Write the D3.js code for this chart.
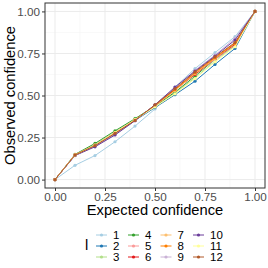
<!DOCTYPE html>
<html>
<head>
<meta charset="utf-8">
<script src="https://cdn.jsdelivr.net/npm/d3@7"></script>
<style>
  body { margin: 0; background: #fff; }
  text { font-family: "Liberation Sans", Arial, sans-serif; }
</style>
</head>
<body>
<div id="chart"></div>
<script>
var expected = [0, 0.1, 0.2, 0.3, 0.4, 0.5, 0.6, 0.7, 0.8, 0.9, 1];
var levels = ["1", "2", "3", "4", "5", "6", "7", "8", "9", "10", "11", "12"];
var colors = ["#A6CEE3", "#1F78B4", "#B2DF8A", "#33A02C", "#FB9A99", "#E31A1C",
              "#FDBF6F", "#FF7F00", "#CAB2D6", "#6A3D9A", "#FFFF99", "#B15928"];
var observed = [
  [0, 0.085, 0.143, 0.225, 0.318, 0.420, 0.550, 0.660, 0.755, 0.850, 1],  // 1
  [0, 0.145, 0.200, 0.272, 0.352, 0.428, 0.505, 0.585, 0.685, 0.780, 1],  // 2
  [0, 0.147, 0.208, 0.282, 0.358, 0.435, 0.515, 0.605, 0.705, 0.795, 1],  // 3
  [0, 0.150, 0.215, 0.290, 0.362, 0.438, 0.520, 0.615, 0.715, 0.800, 1],  // 4
  [0, 0.147, 0.205, 0.280, 0.356, 0.438, 0.530, 0.625, 0.715, 0.800, 1],  // 5
  [0, 0.146, 0.204, 0.278, 0.355, 0.440, 0.535, 0.625, 0.720, 0.805, 1],  // 6
  [0, 0.146, 0.203, 0.276, 0.354, 0.440, 0.530, 0.630, 0.720, 0.810, 1],  // 7
  [0, 0.146, 0.203, 0.275, 0.353, 0.442, 0.535, 0.635, 0.725, 0.810, 1],  // 8
  [0, 0.144, 0.198, 0.268, 0.350, 0.445, 0.545, 0.650, 0.740, 0.840, 1],  // 9
  [0, 0.143, 0.195, 0.265, 0.350, 0.445, 0.550, 0.645, 0.735, 0.830, 1],  // 10
  [0, 0.146, 0.205, 0.280, 0.356, 0.432, 0.510, 0.600, 0.700, 0.790, 1],  // 11
  [0, 0.146, 0.202, 0.275, 0.352, 0.444, 0.540, 0.640, 0.730, 0.815, 1]   // 12
];
var ticks = [0, 0.25, 0.5, 0.75, 1];
var minorTicks = [0.125, 0.375, 0.625, 0.875];

var W = 268, H = 268;
var pL = 45, pR = 265, pT = 3, pB = 188;   // panel edges

var svg = d3.select("#chart").append("svg")
  .attr("width", W).attr("height", H);

var xScale = d3.scaleLinear().domain([-0.05, 1.05]).range([pL, pR]);
var yScale = d3.scaleLinear().domain([-0.05, 1.05]).range([pB, pT]);

// panel background + grid
svg.append("rect")
  .attr("x", pL).attr("y", pT)
  .attr("width", pR - pL).attr("height", pB - pT)
  .style("fill", "white");

var grid = svg.append("g");
minorTicks.forEach(function(t) {
  grid.append("line").attr("x1", xScale(t)).attr("x2", xScale(t))
    .attr("y1", pT).attr("y2", pB)
    .style("stroke", "#F3F3F3").style("stroke-width", 0.6);
  grid.append("line").attr("y1", yScale(t)).attr("y2", yScale(t))
    .attr("x1", pL).attr("x2", pR)
    .style("stroke", "#F3F3F3").style("stroke-width", 0.6);
});
ticks.forEach(function(t) {
  grid.append("line").attr("x1", xScale(t)).attr("x2", xScale(t))
    .attr("y1", pT).attr("y2", pB)
    .style("stroke", "#EBEBEB").style("stroke-width", 1);
  grid.append("line").attr("y1", yScale(t)).attr("y2", yScale(t))
    .attr("x1", pL).attr("x2", pR)
    .style("stroke", "#EBEBEB").style("stroke-width", 1);
});

// series, first level drawn first so 12 ends on top
var line = d3.line()
  .x(function(d, i) { return xScale(expected[i]); })
  .y(function(d) { return yScale(d); });

observed.forEach(function(series, k) {
  svg.append("path")
    .datum(series)
    .attr("d", line)
    .style("fill", "none")
    .style("stroke", colors[k])
    .style("stroke-width", 1);
  svg.selectAll(null)
    .data(series)
    .enter()
    .append("circle")
      .attr("cx", function(d, i) { return xScale(expected[i]); })
      .attr("cy", function(d) { return yScale(d); })
      .attr("r", 1.6)
      .style("fill", colors[k]);
});

// panel border
svg.append("rect")
  .attr("x", pL).attr("y", pT)
  .attr("width", pR - pL).attr("height", pB - pT)
  .style("fill", "none").style("stroke", "#333333").style("stroke-width", 1);

// axes
var fmt = d3.format(".2f");
var xAxis = d3.axisBottom(xScale).tickValues(ticks).tickFormat(fmt).tickSize(3).tickPadding(2);
var yAxis = d3.axisLeft(yScale).tickValues(ticks).tickFormat(fmt).tickSize(3).tickPadding(2);

var gx = svg.append("g").attr("transform", "translate(0," + pB + ")").call(xAxis);
var gy = svg.append("g").attr("transform", "translate(" + pL + ",0)").call(yAxis);
[gx, gy].forEach(function(g) {
  g.select(".domain").remove();
  g.selectAll(".tick line").style("stroke", "#333333");
  g.selectAll(".tick text")
    .style("fill", "#4D4D4D")
    .style("font-size", "11.7px")
    .style("font-family", "'Liberation Sans', Arial, sans-serif");
});

// axis titles
svg.append("text")
  .attr("x", (pL + pR) / 2).attr("y", 214.5)
  .style("text-anchor", "middle")
  .style("font-size", "14.7px")
  .text("Expected confidence");

svg.append("text")
  .attr("transform", "translate(15," + ((pT + pB) / 2) + ") rotate(-90)")
  .style("text-anchor", "middle")
  .style("font-size", "14.7px")
  .text("Observed confidence");

// legend
var legend = svg.append("g").attr("class", "legend");
legend.append("text")
  .attr("x", 85).attr("y", 250)
  .style("font-size", "14.7px")
  .text("l");

var colX = [101.5, 133.5, 166, 198.5];
var rowY = [235, 246, 257];
levels.forEach(function(lab, k) {
  var cx = colX[Math.floor(k / 3)], cy = rowY[k % 3];
  legend.append("line")
    .attr("x1", cx - 5.5).attr("x2", cx + 5.5)
    .attr("y1", cy).attr("y2", cy)
    .style("stroke", colors[k]).style("stroke-width", 1);
  legend.append("circle")
    .attr("cx", cx).attr("cy", cy).attr("r", 1.6)
    .style("fill", colors[k]);
  legend.append("text")
    .attr("x", cx + 11.5).attr("y", cy + 4.2)
    .style("font-size", "11.5px")
    .text(lab);
});
</script>
</body>
</html>
